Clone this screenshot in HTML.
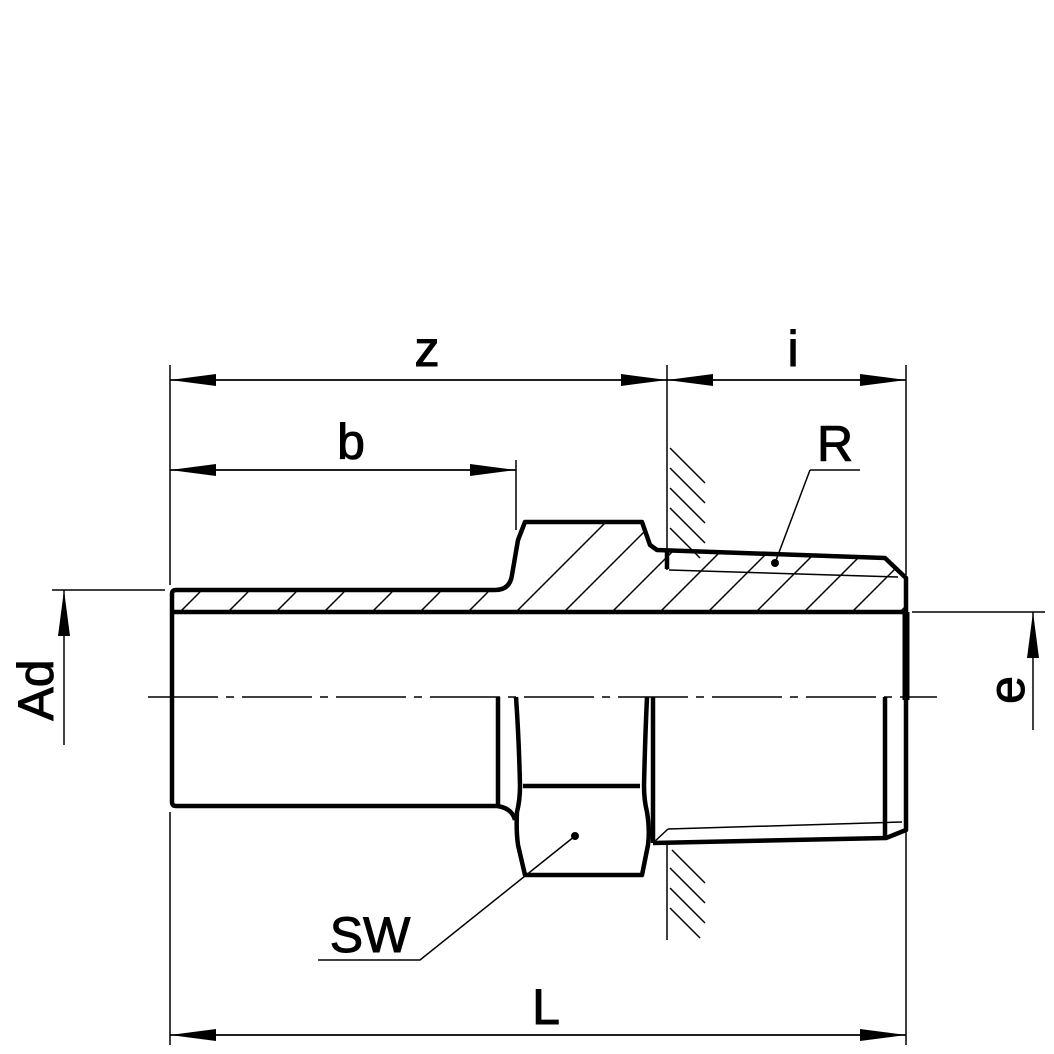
<!DOCTYPE html>
<html><head><style>html,body{margin:0;padding:0;background:#fff}svg{display:block}</style></head>
<body>
<svg width="1054" height="1054" viewBox="0 0 1054 1054" xmlns="http://www.w3.org/2000/svg" font-family="Liberation Sans, sans-serif">
<defs>
<clipPath id="sec"><path d="M172,594 Q172,590 176,590 L495,590 Q510,590 512,575 L518,540 L525,522 L642,522 L650,545 L657,550 L885,558 L906,578 L906,612 L172,612 Z"/></clipPath>
<marker id="ar" viewBox="0 0 46 12" refX="46" refY="6" markerWidth="46" markerHeight="12" markerUnits="userSpaceOnUse" orient="auto"><path d="M0,0 L46,6 L0,12 Z" fill="#000"/></marker>
</defs>
<g stroke="#000" fill="none">
<g clip-path="url(#sec)" stroke-width="1.5">
<path d="M160,632 L200,592 M208,632 L248,592 M256,632 L296,592 M304,632 L344,592 M352,632 L392,592 M400,632 L440,592 M448,632 L488,592 M496,632 L616,512 M544,632 L664,512 M592,632 L712,512 M640,632 L760,512 M688,632 L808,512 M736,632 L856,512 M784,632 L904,512 M832,632 L952,512 M880,632 L1000,512 M448,680 L616,512"/>
</g>
<g stroke-width="1.5">
<line x1="170" y1="365" x2="170" y2="585"/>
<line x1="170" y1="812" x2="170" y2="1045"/>
<line x1="667" y1="365" x2="667" y2="570"/>
<line x1="667" y1="843" x2="667" y2="940"/>
<line x1="906" y1="365" x2="906" y2="575"/>
<line x1="906" y1="830" x2="906" y2="1045"/>
<line x1="516" y1="460" x2="516" y2="530"/>
<line x1="52" y1="590" x2="165" y2="590"/>
<line x1="912" y1="612" x2="1045" y2="612"/>
<line x1="170" y1="380" x2="667" y2="380" marker-end="url(#ar)"/>
<line x1="667" y1="380" x2="170" y2="380" marker-end="url(#ar)"/>
<line x1="667" y1="380" x2="906" y2="380" marker-end="url(#ar)"/>
<line x1="906" y1="380" x2="667" y2="380" marker-end="url(#ar)"/>
<line x1="170" y1="470" x2="516" y2="470" marker-end="url(#ar)"/>
<line x1="516" y1="470" x2="170" y2="470" marker-end="url(#ar)"/>
<line x1="170" y1="1035" x2="906" y2="1035" marker-end="url(#ar)"/>
<line x1="906" y1="1035" x2="170" y2="1035" marker-end="url(#ar)"/>
<line x1="64" y1="745" x2="64" y2="590" marker-end="url(#ar)"/>
<line x1="1033" y1="730" x2="1033" y2="612" marker-end="url(#ar)"/>
<path d="M148,697 H937" stroke-dasharray="70,8,8,8"/>
<path d="M670,448 L705,483 M670,468 L705,503 M670,488 L705,523 M670,508 L705,543 M670,528 L700,558 M672,850 L705,883 M670,868 L705,903 M670,888 L705,923 M670,908 L700,938"/>
<path d="M669,570 L898,577"/>
<path d="M668,829 L902,822"/>
<path d="M653,843 L668,829"/>
<path d="M810,470 H860 M810,470 L775,563"/>
<path d="M318,960 H420 L575,836"/>
</g>
<circle cx="775" cy="563" r="3.5" fill="#000"/>
<circle cx="575" cy="836" r="3.5" fill="#000"/>
<g stroke="#000" fill="none" stroke-width="4.5" stroke-linejoin="round">
<path d="M172,612 V594 Q172,590 176,590 L495,590 Q510,590 512,575 L518,540 L525,522 L642,522 L650,545 L657,550 L885,558 L906,578 V830 L886,838 L653,843"/>
<path d="M172,612 H906"/>
<path d="M172,612 V802 Q172,806 176,806 H497 Q512,808 515,820"/>
<path d="M667,550 V569"/>
<path d="M498,697 V806 M516,697 Q519,740 520,786 Q520,800 517,812 Q516,830 518,845 L525,875 H642 L648,845 Q650,830 647,812 Q644,800 644,786 Q645,740 647,697"/>
<path d="M523,786 H640"/>
<path d="M653,697 V843"/>
<path d="M885,697 V838"/>
<path d="M906,612 V700" stroke-width="7"/>
</g>
<g font-size="50" fill="#000">
<text x="427" y="366" text-anchor="middle">z</text>
<text x="793" y="366" text-anchor="middle">i</text>
<text x="351" y="459" text-anchor="middle">b</text>
<text x="835" y="461" text-anchor="middle">R</text>
<text x="370" y="952" text-anchor="middle">SW</text>
<text x="546" y="1024" text-anchor="middle">L</text>
<text transform="translate(53,690) rotate(-90)" text-anchor="middle">Ad</text>
<text transform="translate(1024,690) rotate(-90)" text-anchor="middle">e</text>
</g>
</svg>
</body></html>
